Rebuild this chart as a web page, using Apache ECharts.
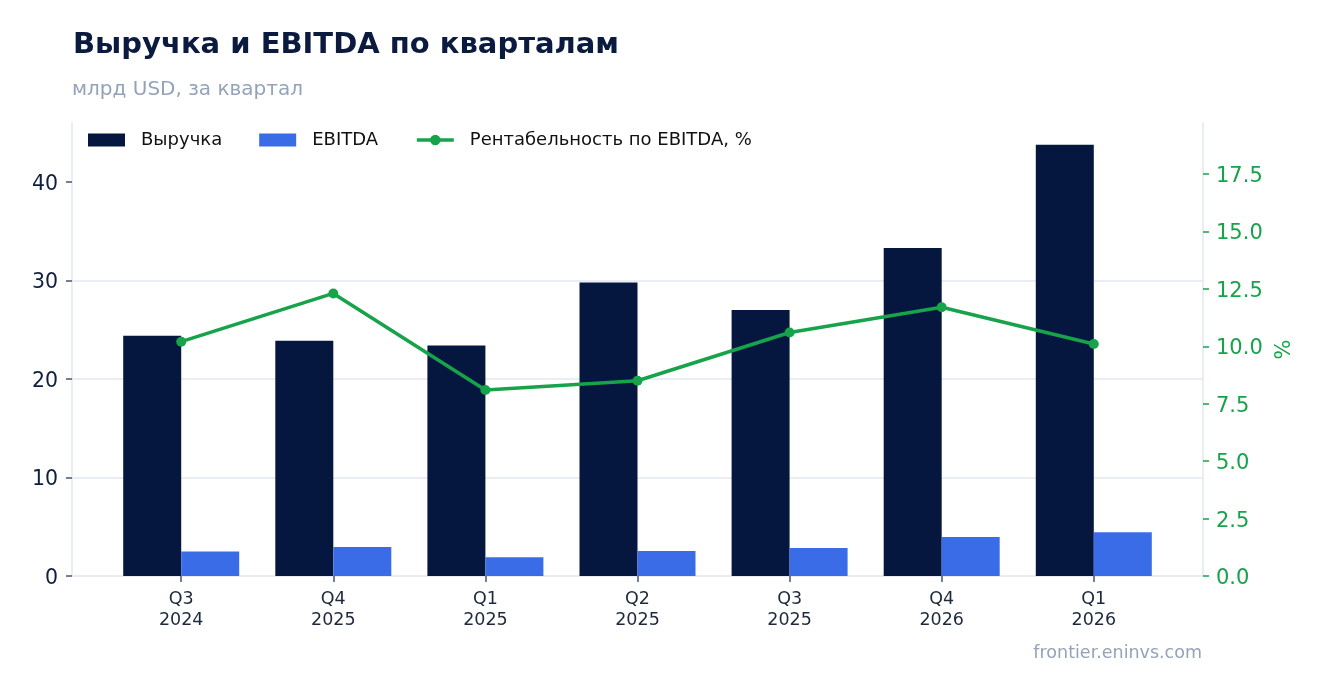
<!DOCTYPE html>
<html>
<head>
<meta charset="utf-8">
<script src="https://cdn.jsdelivr.net/npm/echarts@6/dist/echarts.min.js"></script>
<style>
html,body{margin:0;padding:0;background:#fff;}
#chart{width:1323px;height:693px;}
</style>
</head>
<body>
<div id="chart"></div>
<script>
const categories = ["Q3\n2024", "Q4\n2025", "Q1\n2025", "Q2\n2025", "Q3\n2025", "Q4\n2026", "Q1\n2026"];
const revenue = [24.4, 23.9, 23.4, 29.8, 27.0, 33.3, 43.8];
const ebitda = [2.5, 2.95, 1.9, 2.55, 2.85, 3.95, 4.45];
const margin = [10.2, 12.3, 8.1, 8.5, 10.6, 11.7, 10.1];
const leftTicks = [0, 10, 20, 30, 40];
const rightTicks = [0, 2.5, 5, 7.5, 10, 12.5, 15, 17.5];
const catIdx = categories.map((c, i) => i);

const FONT = "DejaVu Sans";
const NAVY = "#06173f";
const BLUE = "#3b6ce8";
const GREEN = "#16a34a";
const GRID = "#e2e8f0";

const chart = echarts.init(document.getElementById('chart'), null, {renderer: 'canvas'});
chart.setOption({
  backgroundColor: '#ffffff',
  animation: false,
  textStyle: {fontFamily: FONT},
  title: [{
    text: 'Выручка и EBITDA по кварталам',
    left: 68, top: 26,
    textStyle: {fontFamily: FONT, fontSize: 29, fontWeight: 'bold', color: '#0b1a3f'}
  }, {
    text: 'млрд USD, за квартал',
    left: 67, top: 75,
    textStyle: {fontFamily: FONT, fontSize: 20, fontWeight: 'normal', color: '#94a3b8'}
  }, {
    text: 'frontier.eninvs.com',
    right: 116, top: 639,
    textStyle: {fontFamily: FONT, fontSize: 17.5, fontWeight: 'normal', color: '#94a3b8'}
  }],
  legend: {
    left: 88, top: 131, padding: 0,
    itemWidth: 37, itemHeight: 13, itemGap: 37,
    textStyle: {fontFamily: FONT, fontSize: 18, color: '#111111', padding: [0, 0, 0, 11]},
    data: [
      {name: 'Выручка', icon: 'rect'},
      {name: 'EBITDA', icon: 'rect'},
      {name: 'Рентабельность по EBITDA, %', lineStyle: {width: 3.5, color: GREEN}}
    ]
  },
  grid: {left: 72, right: 120, top: 123, bottom: 117, containLabel: false},
  xAxis: {
    type: 'value',
    min: -0.718, max: 6.718,
    axisLine: {show: true, onZero: false, lineStyle: {color: GRID, width: 1.5}},
    axisTick: {show: true, length: 6, lineStyle: {color: '#475569', width: 1.5}, customValues: catIdx},
    axisLabel: {
      customValues: catIdx,
      formatter: v => categories[Math.round(v)],
      fontFamily: FONT, fontSize: 17.5, color: '#1e293b', lineHeight: 21, margin: 13
    },
    splitLine: {show: false}
  },
  yAxis: [{
    type: 'value',
    min: 0, max: 46,
    position: 'left',
    axisLine: {show: true, onZero: false, lineStyle: {color: GRID, width: 1.5}},
    axisTick: {show: true, length: 6, lineStyle: {color: '#475569', width: 1.5}, customValues: leftTicks},
    axisLabel: {
      customValues: leftTicks,
      formatter: v => '{a|' + v + '}',
      margin: 14,
      rich: {a: {fontFamily: FONT, fontSize: 20.5, color: '#0f1f3d', padding: [5, 0, 0, 0]}}
    },
    splitLine: {show: true, showMinLine: false, showMaxLine: false, lineStyle: {color: GRID, width: 1.5}}
  }, {
    type: 'value',
    min: 0, max: 19.72,
    position: 'right',
    name: '%',
    nameLocation: 'middle',
    nameRotate: 90,
    nameGap: 65,
    nameTextStyle: {fontFamily: FONT, fontSize: 21, color: GREEN},
    axisLine: {show: true, onZero: false, lineStyle: {color: GRID, width: 1.5}},
    axisTick: {show: true, length: 6, lineStyle: {color: GREEN, width: 1.5}, customValues: rightTicks},
    axisLabel: {
      customValues: rightTicks,
      formatter: v => '{a|' + v.toFixed(1) + '}',
      margin: 13,
      rich: {a: {fontFamily: FONT, fontSize: 21, color: GREEN, padding: [5, 0, 0, 0]}}
    },
    splitLine: {show: false}
  }],
  series: [{
    name: 'Выручка',
    type: 'bar',
    yAxisIndex: 0,
    barWidth: 58,
    barGap: '0%',
    itemStyle: {color: NAVY},
    data: revenue.map((v, i) => [i, v])
  }, {
    name: 'EBITDA',
    type: 'bar',
    yAxisIndex: 0,
    barWidth: 58,
    barGap: '0%',
    itemStyle: {color: BLUE},
    data: ebitda.map((v, i) => [i, v])
  }, {
    name: 'Рентабельность по EBITDA, %',
    type: 'line',
    yAxisIndex: 1,
    symbol: 'circle',
    symbolSize: 10,
    lineStyle: {color: GREEN, width: 3.5},
    itemStyle: {color: GREEN},
    z: 5,
    data: margin.map((v, i) => [i, v])
  }]
});
</script>
</body>
</html>
